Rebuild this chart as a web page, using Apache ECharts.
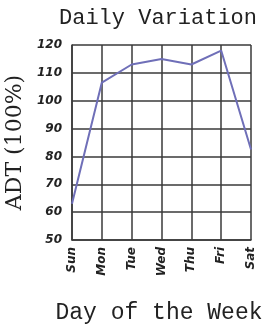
<!DOCTYPE html>
<html>
<head>
<meta charset="utf-8">
<script src="https://cdn.jsdelivr.net/npm/echarts@6/dist/echarts.min.js"></script>
<style>
  html, body { margin: 0; padding: 0; background: #fff; }
  #chart { width: 268px; height: 327px; }
</style>
</head>
<body>
<div id="chart"></div>
<script>
const days = ["Sun", "Mon", "Tue", "Wed", "Thu", "Fri", "Sat"];
const adt = [63, 106.5, 113, 115, 113, 118, 82.5];
const yTicks = [50, 60, 70, 80, 90, 100, 110, 120];

const myChart = echarts.init(document.getElementById("chart"));
const gridColor = "#3a3a3a";

myChart.setOption({
  animation: false,
  title: {
    text: "Daily Variation",
    left: 153,
    top: 2,
    textAlign: "center",
    textStyle: {
      fontFamily: "Liberation Mono",
      fontWeight: "normal",
      fontSize: 22,
      color: "#222"
    }
  },
  grid: {
    left: 72,
    right: 17,
    top: 45,
    bottom: 87,
    containLabel: false,
    outerBoundsMode: "none"
  },
  xAxis: {
    type: "category",
    data: days,
    boundaryGap: false,
    name: "Day of the Week",
    nameLocation: "center",
    nameGap: 61,
    nameTextStyle: {
      fontFamily: "Liberation Mono",
      fontSize: 23,
      color: "#222",
      padding: [0, 5, 0, 0]
    },
    axisLine: { lineStyle: { color: gridColor, width: 1.5 } },
    axisTick: { show: false },
    axisLabel: {
      rotate: 90,
      margin: 7,
      fontFamily: "DejaVu Sans",
      fontWeight: "bold",
      fontStyle: "italic",
      fontSize: 12,
      color: "#222"
    },
    splitLine: { show: true, lineStyle: { color: gridColor, width: 1.5 } }
  },
  yAxis: {
    type: "value",
    min: yTicks[0],
    max: yTicks[yTicks.length - 1],
    interval: 10,
    name: "ADT (100%)",
    nameLocation: "center",
    nameGap: 34,
    nameTextStyle: {
      fontFamily: "DejaVu Serif",
      fontSize: 22,
      color: "#222"
    },
    axisLine: { show: true, lineStyle: { color: gridColor, width: 1.5 } },
    axisTick: { show: false },
    axisLabel: {
      margin: 10,
      fontFamily: "DejaVu Sans",
      fontWeight: "bold",
      fontStyle: "italic",
      fontSize: 12,
      color: "#222"
    },
    splitLine: { show: true, lineStyle: { color: gridColor, width: 1.5 } }
  },
  series: [
    {
      type: "line",
      data: adt,
      symbol: "none",
      lineStyle: { color: "#6f6fb8", width: 2 }
    }
  ]
});
</script>
</body>
</html>
